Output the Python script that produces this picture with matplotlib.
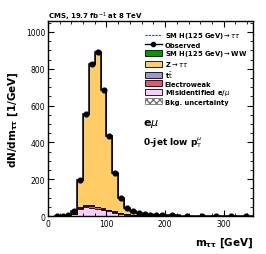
import numpy as np
import matplotlib.pyplot as plt
from matplotlib.patches import Patch
from matplotlib.lines import Line2D
from matplotlib.ticker import MultipleLocator

# bin edges in m_tautau [GeV]
edges = [10, 20, 30, 40, 50, 60, 70, 80, 90, 100, 110, 120, 130, 140, 150,
         160, 170, 180, 190, 200, 225, 250, 275, 300, 325, 350]

obs = [0, 0, 3, 28, 196, 554, 826, 890, 686, 436, 232, 96, 42, 27, 15,
       10, 8, 5, 4, 3, 2, 2, 1, 1, 1]
fakes = [0, 0, 1, 10, 38, 48, 46, 40, 32, 26, 18, 12, 8, 5, 4,
         3, 2, 2, 1, 1, 1, 0.5, 0.5, 0.3, 0.3]
ewk = [0, 0, 0.5, 2, 7, 9, 9, 8, 7, 6, 5, 4, 3, 2, 2,
       1, 1, 1, 1, 0.5, 0.5, 0.3, 0.3, 0.2, 0.2]
ttbar = [0, 0, 0.2, 1, 2, 2, 3, 3, 3, 3, 2, 2, 2, 1, 1,
         1, 1, 1, 1, 0.5, 0.5, 0.3, 0.3, 0.2, 0.2]
ztt = [0, 0, 1, 14, 148, 494, 766, 838, 642, 400, 206, 78, 30, 16, 7,
       4, 3, 2, 1, 1, 0.5, 0.4, 0.2, 0.1, 0.1]
hww = [0, 0, 0, 0, 0.3, 0.5, 0.8, 1, 1, 1, 1, 0.8, 0.6, 0.5, 0.4,
       0.3, 0.2, 0.2, 0.1, 0.1, 0.1, 0, 0, 0, 0]
htt = [0, 0, 0, 0.2, 0.5, 1, 1.5, 2, 2, 2, 2, 1.5, 1, 0.8, 0.5,
       0.3, 0.2, 0.1, 0.1, 0.1, 0, 0, 0, 0, 0]

edges = np.array(edges)
centers = 0.5 * (edges[1:] + edges[:-1])

fig = plt.figure(figsize=(2.66, 2.55), dpi=100)
ax = fig.add_axes([0.180, 0.149, 0.771, 0.765])

# stack from the bottom up
stack = [(fakes, '#ffccff'),
         (ewk, '#de5a6a'),
         (ttbar, '#9999cc'),
         (ztt, '#ffcc66'),
         (hww, '#009900')]
base = np.zeros(len(centers))
for vals, col in stack:
    top = base + np.array(vals)
    ax.stairs(top, edges, baseline=base, fill=True, color=col, lw=0)
    ax.stairs(top, edges, baseline=None, color='black', lw=0.6)
    base = top
total = base

unc = 0.015 * total
ax.stairs(total + unc, edges, baseline=total - unc, fill=True, facecolor='none',
          edgecolor='#aaaaaa', hatch='xxxxx', lw=0)
ax.stairs(total + np.array(htt), edges, baseline=None, color='#3333ff', lw=0.7, ls=(0, (2, 1)))
ax.stairs(total, edges, baseline=None, color='black', lw=1.1)

ax.plot(centers, obs, 'o', color='black', ms=3.4)

ax.set_xlim(0, 350)
ax.set_ylim(0, 1060)
ax.xaxis.set_major_locator(MultipleLocator(100))
ax.xaxis.set_minor_locator(MultipleLocator(20))
ax.yaxis.set_major_locator(MultipleLocator(200))
ax.yaxis.set_minor_locator(MultipleLocator(50))
ax.tick_params(which='both', direction='in', top=True, right=True, labelsize=5.5, pad=2)
ax.tick_params(which='major', length=4, width=0.8)
ax.tick_params(which='minor', length=2, width=0.6)
for s in ax.spines.values():
    s.set_linewidth(1.0)

ax.set_ylabel(r'$\mathbf{dN/dm_{\tau\tau}}$ [1/GeV]', fontsize=7.5, fontweight='bold', labelpad=4)
fig.text(0.951, 0.035, r'$\mathbf{m_{\tau\tau}}$ [GeV]', fontsize=7.5, fontweight='bold', ha='right')
fig.text(0.180, 0.925, r'CMS, 19.7 fb$^{-1}$ at 8 TeV', fontsize=5, fontweight='bold')

ax.text(0.463, 0.467, r'e$\mu$', transform=ax.transAxes, fontsize=8, fontweight='bold')
ax.text(0.463, 0.364, r'0-jet low p$_{\rm T}^{\mu}$', transform=ax.transAxes, fontsize=6.5, fontweight='bold')

handles = [Line2D([], [], color='#3333ff', ls=(0, (2, 1)), lw=0.8),
           Line2D([], [], color='black', marker='o', ms=3, lw=1),
           Patch(facecolor='#009900', edgecolor='black', lw=0.6),
           Patch(facecolor='#ffcc66', edgecolor='black', lw=0.6),
           Patch(facecolor='#9999cc', edgecolor='black', lw=0.6),
           Patch(facecolor='#de5a6a', edgecolor='black', lw=0.6),
           Patch(facecolor='#ffccff', edgecolor='black', lw=0.6),
           Patch(facecolor='white', edgecolor='#777777', hatch='xxxxx', lw=0.6)]
labels = [r'SM H(125 GeV)$\rightarrow\tau\tau$', 'Observed',
          r'SM H(125 GeV)$\rightarrow$WW', r'Z$\rightarrow\tau\tau$',
          r't$\bar{\rm t}$', 'Electroweak', r'Misidentified e/$\mu$',
          'Bkg. uncertainty']
leg = ax.legend(handles, labels, loc='upper left', bbox_to_anchor=(0.46, 0.965),
                frameon=False, fontsize=4.9, handlelength=2.5, handleheight=0.9,
                labelspacing=0.13, handletextpad=0.4, borderaxespad=0)
for t in leg.get_texts():
    t.set_fontweight('bold')

fig.savefig('out.png', dpi=100)
